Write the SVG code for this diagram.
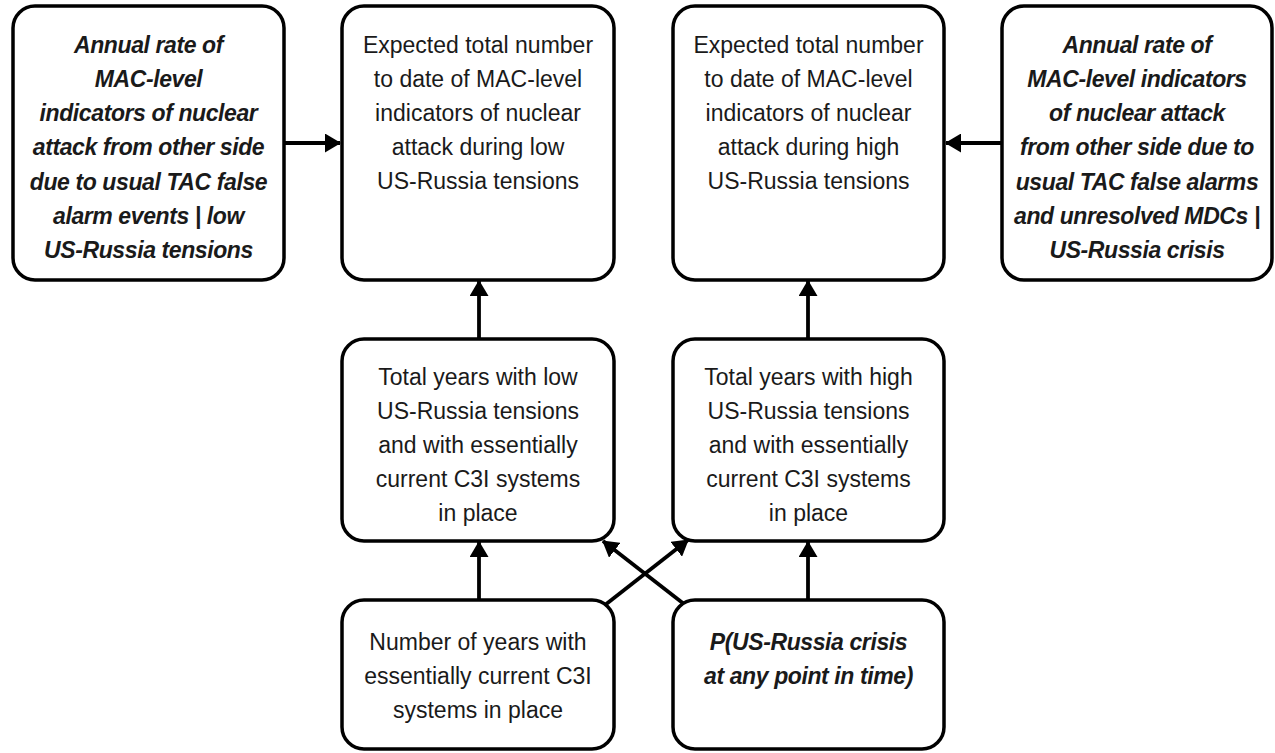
<svg xmlns="http://www.w3.org/2000/svg" width="1275" height="753" viewBox="0 0 1275 753">
<style>
.box{fill:#fff;stroke:#000;stroke-width:3.5}
.t{font-family:"Liberation Sans",Arial,sans-serif;font-size:23px;text-anchor:middle;fill:#1a1a1a}
.b{font-weight:bold;font-style:italic;letter-spacing:-0.4px}
.c{stroke:#000;stroke-width:3.8;fill:none;marker-end:url(#ah)}
</style>
<defs>
<marker id="ah" viewBox="0 0 16 19" refX="15" refY="9.5" markerWidth="16" markerHeight="19" orient="auto" markerUnits="userSpaceOnUse">
<path d="M0,0 L16,9.5 L0,19 Z" fill="#000"/>
</marker>
</defs>
<rect width="1275" height="753" fill="#fff"/>
<g id="n1">
<rect class="box" x="13" y="6" width="271" height="274" rx="22"/>
<text class="t b"><tspan x="148.5" y="53">Annual rate of</tspan><tspan x="148.5" y="87">MAC-level</tspan><tspan x="148.5" y="121">indicators of nuclear</tspan><tspan x="148.5" y="155">attack from other side</tspan><tspan x="148.5" y="190">due to usual TAC false</tspan><tspan x="148.5" y="224">alarm events | low</tspan><tspan x="148.5" y="258">US-Russia tensions</tspan></text>
</g>
<g id="n2">
<rect class="box" x="342" y="6" width="272" height="274" rx="22"/>
<text class="t"><tspan x="478" y="53">Expected total number</tspan><tspan x="478" y="87">to date of MAC-level</tspan><tspan x="478" y="121">indicators of nuclear</tspan><tspan x="478" y="155">attack during low</tspan><tspan x="478" y="189">US-Russia tensions</tspan></text>
</g>
<g id="n3">
<rect class="box" x="673" y="6" width="271" height="274" rx="22"/>
<text class="t"><tspan x="808.5" y="53">Expected total number</tspan><tspan x="808.5" y="87">to date of MAC-level</tspan><tspan x="808.5" y="121">indicators of nuclear</tspan><tspan x="808.5" y="155">attack during high</tspan><tspan x="808.5" y="189">US-Russia tensions</tspan></text>
</g>
<g id="n4">
<rect class="box" x="1002" y="6" width="270" height="274" rx="22"/>
<text class="t b"><tspan x="1137" y="53">Annual rate of</tspan><tspan x="1137" y="87">MAC-level indicators</tspan><tspan x="1137" y="121">of nuclear attack</tspan><tspan x="1137" y="155">from other side due to</tspan><tspan x="1137" y="190">usual TAC false alarms</tspan><tspan x="1137" y="224">and unresolved MDCs |</tspan><tspan x="1137" y="258">US-Russia crisis</tspan></text>
</g>
<g id="n5">
<rect class="box" x="342" y="339" width="272" height="202" rx="22"/>
<text class="t"><tspan x="478" y="385">Total years with low</tspan><tspan x="478" y="419">US-Russia tensions</tspan><tspan x="478" y="453">and with essentially</tspan><tspan x="478" y="487">current C3I systems</tspan><tspan x="478" y="521">in place</tspan></text>
</g>
<g id="n6">
<rect class="box" x="673" y="339" width="271" height="202" rx="22"/>
<text class="t"><tspan x="808.5" y="385">Total years with high</tspan><tspan x="808.5" y="419">US-Russia tensions</tspan><tspan x="808.5" y="453">and with essentially</tspan><tspan x="808.5" y="487">current C3I systems</tspan><tspan x="808.5" y="521">in place</tspan></text>
</g>
<g id="n7">
<rect class="box" x="342" y="600" width="272" height="149" rx="22"/>
<text class="t"><tspan x="478" y="650">Number of years with</tspan><tspan x="478" y="684">essentially current C3I</tspan><tspan x="478" y="718">systems in place</tspan></text>
</g>
<g id="n8">
<rect class="box" x="673" y="600" width="271" height="149" rx="22"/>
<text class="t b"><tspan x="808.5" y="650">P(US-Russia crisis</tspan><tspan x="808.5" y="684">at any point in time)</tspan></text>
</g>
<g id="connectors">
<line class="c" x1="284" y1="143" x2="340" y2="143"/>
<line class="c" x1="1002" y1="143" x2="946" y2="143"/>
<line class="c" x1="479" y1="339" x2="479" y2="281"/>
<line class="c" x1="808" y1="339" x2="808" y2="281"/>
<line class="c" x1="479" y1="600" x2="479" y2="542"/>
<line class="c" x1="808" y1="600" x2="808" y2="542"/>
<line class="c" x1="605" y1="605" x2="688" y2="540"/>
<line class="c" x1="684" y1="604" x2="603" y2="541"/>
</g>
</svg>
